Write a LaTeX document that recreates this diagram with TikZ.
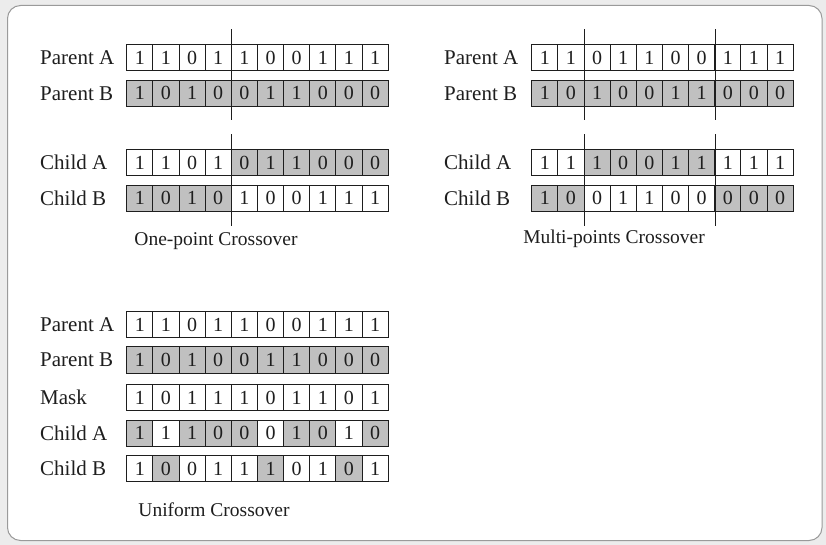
\documentclass[tikz,border=0pt]{standalone}
\usepackage{fontspec}
\setmainfont{Liberation Serif}
\usetikzlibrary{calc}
\definecolor{cw}{HTML}{FFFFFF}
\definecolor{cg}{HTML}{C0C0C0}
\definecolor{bgout}{HTML}{ECECEC}
\definecolor{frame}{HTML}{9A9A9A}
\definecolor{ink}{HTML}{1E1E1E}
\newcommand\bitrow[4]{%
  \foreach \b/\s [count=\i] in {#4} {
    \node[cell, fill=\s] (#1-\i) at ({#2+(\i-0.5)*26.15},#3) {\b};
  }%
}
\tikzset{
  cell/.style={draw=ink, line width=0.9pt, minimum width=26.15pt, minimum height=26.5pt,
    inner sep=0pt, font=\fontsize{20}{22}\selectfont, text=ink},
  lbl/.style={anchor=west, inner sep=0pt, font=\fontsize{21}{24}\selectfont, text=ink},
  ttl/.style={inner sep=0pt, font=\fontsize{19.5}{22}\selectfont, text=ink},
  cut/.style={draw=ink, line width=0.8pt}
}
\begin{document}
\begin{tikzpicture}[x=1pt, y=-1pt]
\useasboundingbox (0,0) rectangle (826,545);
\fill[bgout] (0,0) rectangle (826,545);
\draw[frame, fill=white, line width=1pt, rounded corners=13pt] (7.5,5.5) rectangle (822,540.5);

% ---------- One-point crossover ----------
\node[lbl] (l1pa) at (40,57.7) {Parent A};
\node[lbl] (l1pb) at (40,93.3) {Parent B};
\node[lbl] (l1ca) at (40,162.7) {Child A};
\node[lbl] (l1cb) at (40,198.3) {Child B};
\bitrow{opa}{126.7}{57.7}{1/cw,1/cw,0/cw,1/cw,1/cw,0/cw,0/cw,1/cw,1/cw,1/cw}
\bitrow{opb}{126.7}{93.3}{1/cg,0/cg,1/cg,0/cg,0/cg,1/cg,1/cg,0/cg,0/cg,0/cg}
\bitrow{oca}{126.7}{162.7}{1/cw,1/cw,0/cw,1/cw,0/cg,1/cg,1/cg,0/cg,0/cg,0/cg}
\bitrow{ocb}{126.7}{198.3}{1/cg,0/cg,1/cg,0/cg,1/cw,0/cw,0/cw,1/cw,1/cw,1/cw}
\draw[cut] ($(opa-4.north east)+(0,-14.5)$) -- ($(opb-4.south east)+(0,13.5)$);
\draw[cut] ($(oca-4.north east)+(0,-14.5)$) -- ($(ocb-4.south east)+(0,13.5)$);
\node[ttl] (t1) at (216,241) {One-point Crossover};

% ---------- Multi-points crossover ----------
\node[lbl] (l2pa) at (444,57.7) {Parent A};
\node[lbl] (l2pb) at (444,93.3) {Parent B};
\node[lbl] (l2ca) at (444,162.7) {Child A};
\node[lbl] (l2cb) at (444,198.3) {Child B};
\bitrow{mpa}{531.7}{57.7}{1/cw,1/cw,0/cw,1/cw,1/cw,0/cw,0/cw,1/cw,1/cw,1/cw}
\bitrow{mpb}{531.7}{93.3}{1/cg,0/cg,1/cg,0/cg,0/cg,1/cg,1/cg,0/cg,0/cg,0/cg}
\bitrow{mca}{531.7}{162.7}{1/cw,1/cw,1/cg,0/cg,0/cg,1/cg,1/cg,1/cw,1/cw,1/cw}
\bitrow{mcb}{531.7}{198.3}{1/cg,0/cg,0/cw,1/cw,1/cw,0/cw,0/cw,0/cg,0/cg,0/cg}
\draw[cut] ($(mpa-2.north east)+(0,-14.5)$) -- ($(mpb-2.south east)+(0,13.5)$);
\draw[cut] ($(mca-2.north east)+(0,-14.5)$) -- ($(mcb-2.south east)+(0,13.5)$);
\draw[cut] ($(mpa-7.north east)+(0,-14.5)$) -- ($(mpb-7.south east)+(0,13.5)$);
\draw[cut] ($(mca-7.north east)+(0,-14.5)$) -- ($(mcb-7.south east)+(0,13.5)$);
\node[ttl] (t2) at (614,239) {Multi-points Crossover};

% ---------- Uniform crossover ----------
\node[lbl] (l3pa) at (40,324.5) {Parent A};
\node[lbl] (l3pb) at (40,359.8) {Parent B};
\node[lbl] (l3mk) at (40,397.5) {Mask};
\node[lbl] (l3ca) at (40,433.3) {Child A};
\node[lbl] (l3cb) at (40,468.5) {Child B};
\bitrow{upa}{126.7}{324.5}{1/cw,1/cw,0/cw,1/cw,1/cw,0/cw,0/cw,1/cw,1/cw,1/cw}
\bitrow{upb}{126.7}{359.8}{1/cg,0/cg,1/cg,0/cg,0/cg,1/cg,1/cg,0/cg,0/cg,0/cg}
\bitrow{umk}{126.7}{397.5}{1/cw,0/cw,1/cw,1/cw,1/cw,0/cw,1/cw,1/cw,0/cw,1/cw}
\bitrow{uca}{126.7}{433.3}{1/cg,1/cw,1/cg,0/cg,0/cg,0/cw,1/cg,0/cg,1/cw,0/cg}
\bitrow{ucb}{126.7}{468.5}{1/cw,0/cg,0/cw,1/cw,1/cw,1/cg,0/cw,1/cw,0/cg,1/cw}
\node[ttl] (t3) at (214,510) {Uniform Crossover};
\end{tikzpicture}
\end{document}
